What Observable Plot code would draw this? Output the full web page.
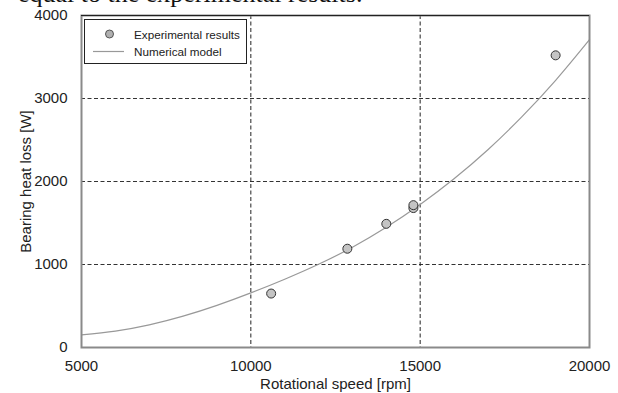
<!DOCTYPE html>
<html>
<head>
<meta charset="utf-8">
<script src="https://cdn.jsdelivr.net/npm/d3@7"></script>
<script src="https://cdn.jsdelivr.net/npm/@observablehq/plot@0.6"></script>
<style>
  html, body { margin: 0; padding: 0; background: #fff; overflow: hidden; }
  #wrap { position: relative; width: 618px; height: 393px; overflow: hidden; }
  #cut { position: absolute; left: 18px; top: -19px; font: 26px "Liberation Serif", "Times New Roman", serif; line-height: 26px; color: #111; white-space: nowrap; }
  #legend { position: absolute; left: 84px; top: 19px; width: 161px; height: 43px; border: 1px solid #222; background: #fff;
            font: 11.7px "Liberation Sans", Arial, sans-serif; color: #222; }
  #legend .row { position: absolute; left: 0; height: 16px; display: flex; align-items: center; }
  #legend svg { display: block; }
  #legend span { position: absolute; left: 49px; white-space: nowrap; }
</style>
</head>
<body>
<div id="wrap">
  <div id="chart"></div>
  <div id="cut">equal to the experimental results.</div>
  <div id="legend"></div>
</div>
<script>
// Experimental results
const speedExp = [10600, 12850, 14000, 14800, 14800, 19000];
const lossExp  = [650, 1190, 1490, 1680, 1715, 3520];

// Numerical model
const speedModel = [5000, 6000, 7000, 8000, 9000, 10000, 11000, 12000, 13000, 14000, 15000, 16000, 17000, 18000, 19000, 20000];
const lossModel  = [153, 198, 273, 378, 508, 658, 823, 1003, 1208, 1448, 1723, 2033, 2383, 2778, 3218, 3708];

const xTicks = [5000, 10000, 15000, 20000];
const yTicks = [0, 1000, 2000, 3000, 4000];
const xGrid = [10000, 15000];
const yGrid = [1000, 2000, 3000];

const seriesNames = ["Experimental results", "Numerical model"];
const xTitle = "Rotational speed [rpm]";
const yTitle = "Bearing heat loss [W]";

const expData = speedExp.map((s, i) => ({speed: s, loss: lossExp[i]}));
const modelData = speedModel.map((s, i) => ({speed: s, loss: lossModel[i]}));

const chart = Plot.plot({
  width: 618,
  height: 393,
  marginLeft: 81,
  marginRight: 29,
  marginTop: 15,
  marginBottom: 46,
  style: {fontFamily: "'Liberation Sans', Arial, sans-serif", fontSize: "15px", color: "#222", background: "#fff"},
  x: {domain: [5000, 20000]},
  y: {domain: [0, 4000]},
  marks: [
    Plot.ruleY(yGrid, {stroke: "#333", strokeWidth: 1, strokeDasharray: "4,2.5"}),
    Plot.ruleX(xGrid, {stroke: "#222", strokeWidth: 1, strokeDasharray: "4,2.5"}),
    Plot.line(modelData, {x: "speed", y: "loss", stroke: "#999", strokeWidth: 1.2, curve: "natural"}),
    Plot.dot(expData, {x: "speed", y: "loss", r: 4.5, fill: "#c4c4c4", stroke: "#333", strokeWidth: 1}),
    Plot.frame({stroke: "#8a8a8a", strokeWidth: 2}),
    Plot.ruleY([4000], {stroke: "#222", strokeWidth: 1.2}),
    Plot.axisX(xTicks, {tickSize: 0, tickPadding: 13, tickFormat: d3.format("d"), label: xTitle, labelAnchor: "center", labelArrow: "none", labelOffset: 41, fontSize: 15}),
    Plot.axisY(yTicks, {tickSize: 0, tickPadding: 14, tickFormat: d3.format("d"), label: yTitle, labelAnchor: "center", labelArrow: "none", labelOffset: 61, fontSize: 15})
  ]
});
document.getElementById("chart").appendChild(chart);

// Legend
const legend = document.getElementById("legend");
legend.innerHTML = `
  <div class="row" style="top:6px;width:100%">
    <svg width="48" height="16" style="position:absolute;left:0"><circle cx="24.5" cy="8" r="4" fill="#b0b0b0" stroke="#555" stroke-width="1"/></svg>
    <span>${seriesNames[0]}</span>
  </div>
  <div class="row" style="top:23px;width:100%">
    <svg width="48" height="16" style="position:absolute;left:0"><line x1="8" x2="39" y1="8.5" y2="8.5" stroke="#999" stroke-width="1.2"/></svg>
    <span>${seriesNames[1]}</span>
  </div>`;
</script>
</body>
</html>
